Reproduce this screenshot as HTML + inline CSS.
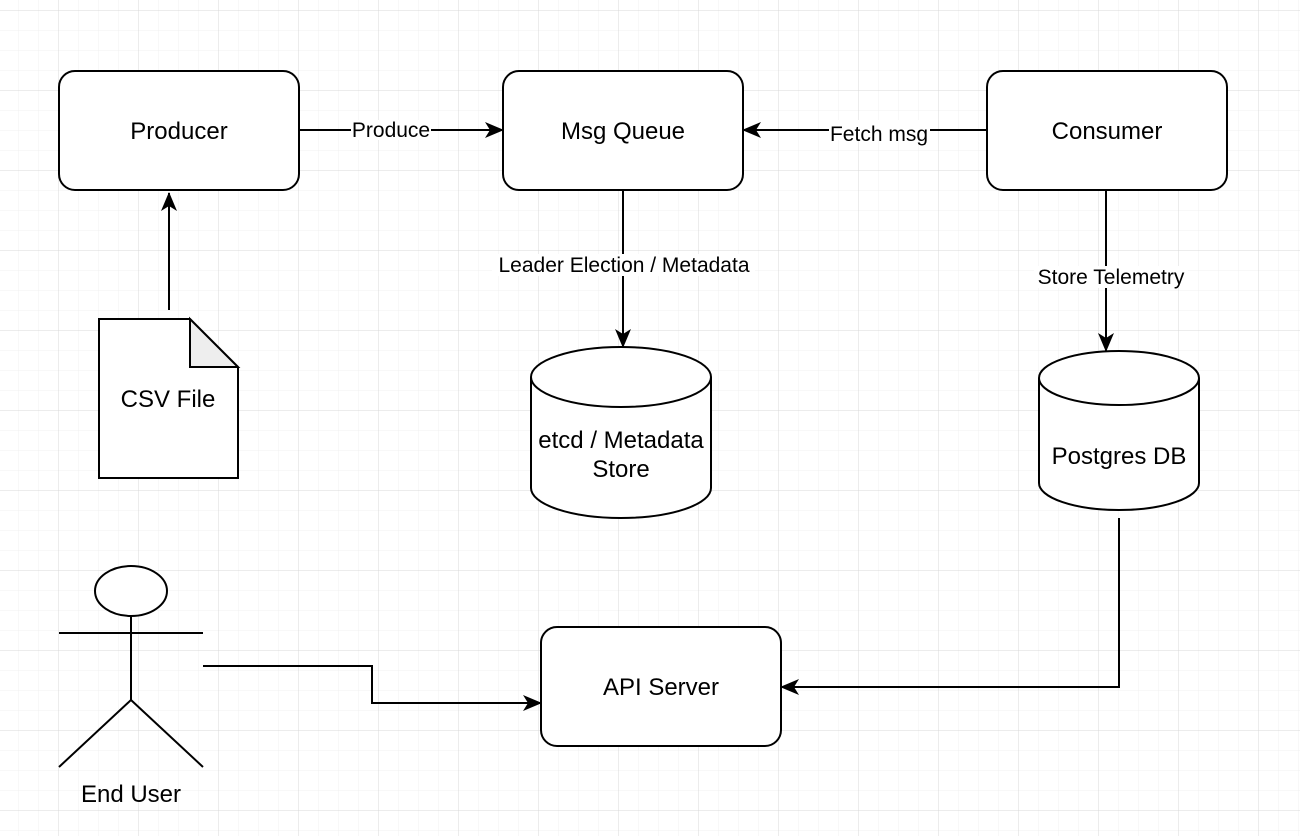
<!DOCTYPE html>
<html><head><meta charset="utf-8"><style>
html,body{margin:0;padding:0;background:#fff}
svg{display:block}
text{font-family:"Liberation Sans",Helvetica,Arial,sans-serif;fill:#000}
</style></head><body>
<svg width="1300" height="836" xmlns="http://www.w3.org/2000/svg">
<defs>
<pattern id="minor" width="20" height="20" patternUnits="userSpaceOnUse" x="18" y="10">
<path d="M0 0H20M0 0V20" stroke="#f0f0f0" stroke-width="1" fill="none"/>
</pattern>
<pattern id="major" width="80" height="80" patternUnits="userSpaceOnUse" x="58" y="10">
<path d="M0 0H80M0 0V80" stroke="#d9d9d9" stroke-width="1" fill="none"/>
</pattern>
<marker id="ar" viewBox="0 0 19 16" refX="18" refY="8" markerWidth="19" markerHeight="16" markerUnits="userSpaceOnUse" orient="auto">
<path d="M0 0L19 8L0 16L5 8Z" fill="#000"/>
</marker>
</defs>
<rect width="1300" height="836" fill="#fff"/>
<rect width="1300" height="836" fill="url(#minor)"/>
<rect width="1300" height="836" fill="url(#major)"/>
<g fill="#fff" stroke="#000" stroke-width="2">
<rect x="59" y="71" width="240" height="119" rx="16"/>
<rect x="503" y="71" width="240" height="119" rx="16"/>
<rect x="987" y="71" width="240" height="119" rx="16"/>
<rect x="541" y="627" width="240" height="119" rx="16"/>
<path d="M99 319H190L238 367V478H99Z"/>
<path d="M190 319V367H238Z" fill="#eeeeee"/>
<path d="M531 377A90 30 0 0 1 711 377V488A90 30 0 0 1 531 488Z"/>
<path d="M531 377A90 30 0 0 0 711 377" fill="none"/>
<path d="M1039 378A80 27 0 0 1 1199 378V483A80 27 0 0 1 1039 483Z"/>
<path d="M1039 378A80 27 0 0 0 1199 378" fill="none"/>
<ellipse cx="131" cy="591" rx="36" ry="25"/>
</g>
<g stroke="#000" stroke-width="2" fill="none">
<path d="M59 633H203M131 616V700L59 767M131 700L203 767"/>
<path d="M169 310V193" marker-end="url(#ar)"/>
<path d="M299 130H503" marker-end="url(#ar)"/>
<path d="M987 130H743" marker-end="url(#ar)"/>
<path d="M623 190V347" marker-end="url(#ar)"/>
<path d="M1106 190V351" marker-end="url(#ar)"/>
<path d="M1119 518V687H781" marker-end="url(#ar)"/>
<path d="M203 666H372V703H541" marker-end="url(#ar)"/>
</g>
<g fill="#fff">
<rect x="351" y="120" width="80" height="20"/>
<rect x="829" y="120" width="101" height="20"/>
<rect x="492" y="254" width="263" height="22"/>
<rect x="1034" y="266" width="154" height="22"/>
</g>
<g font-size="24" text-anchor="middle">
<text x="179" y="139">Producer</text>
<text x="623" y="139">Msg Queue</text>
<text x="1107" y="139">Consumer</text>
<text x="661" y="695">API Server</text>
<text x="168" y="407">CSV File</text>
<text x="621" y="448">etcd / Metadata</text>
<text x="621" y="477">Store</text>
<text x="1119" y="464">Postgres DB</text>
<text x="131" y="802">End User</text>
</g>
<g font-size="21" text-anchor="middle">
<text x="391" y="137">Produce</text>
<text x="879" y="141">Fetch msg</text>
<text x="624" y="272">Leader Election / Metadata</text>
<text x="1111" y="284">Store Telemetry</text>
</g>
</svg>
</body></html>
